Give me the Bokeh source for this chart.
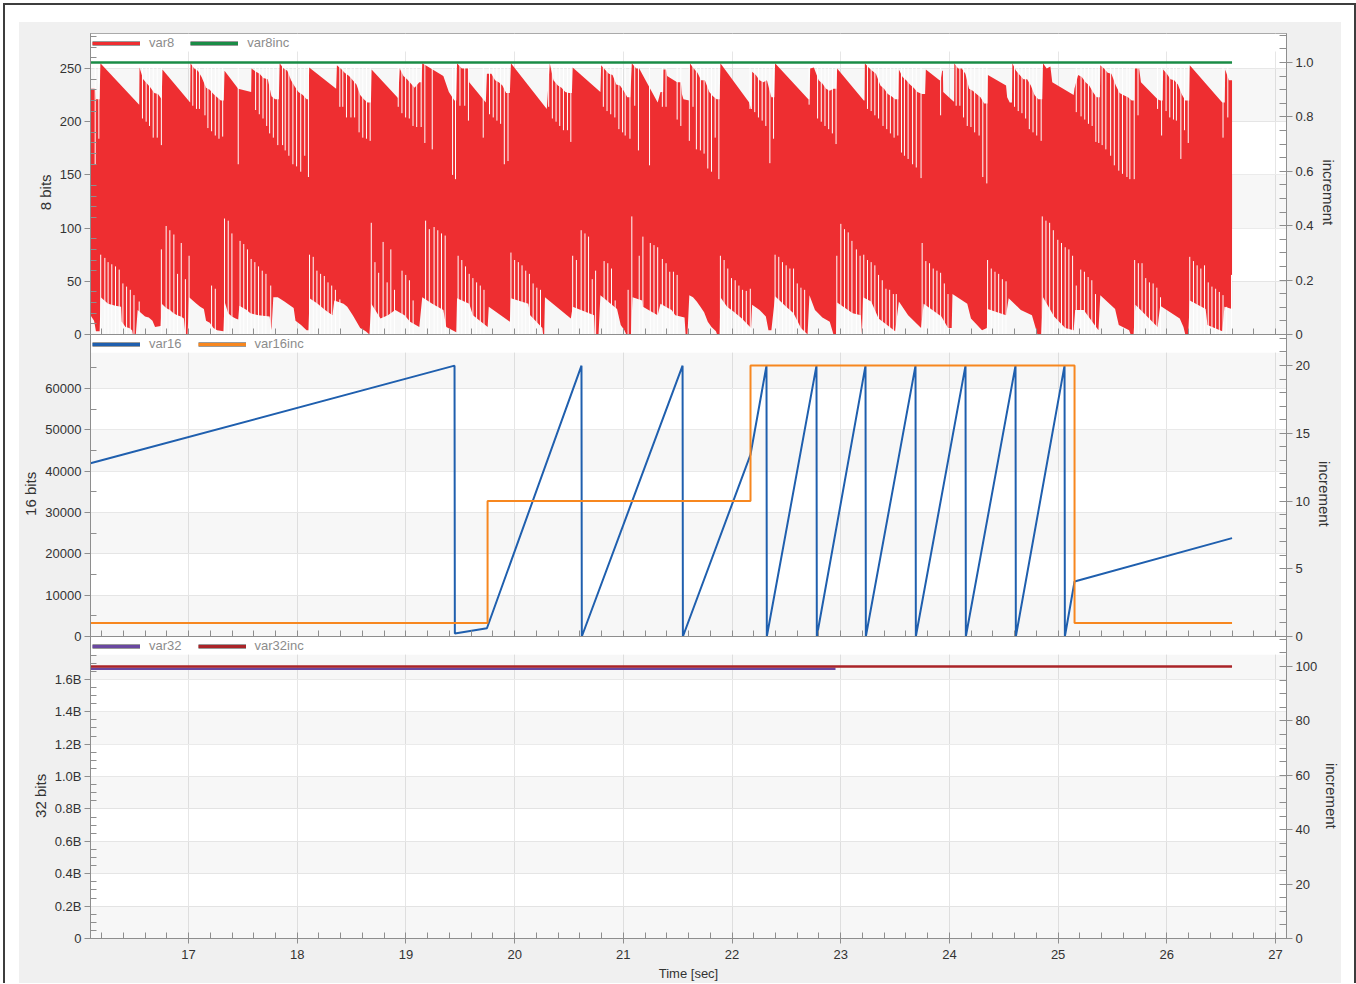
from bokeh.plotting import figure
from bokeh.models import (Range1d, LinearAxis, FixedTicker, BasicTicker, BoxAnnotation,
                          Legend, LegendItem)
from bokeh.layouts import column
from bokeh.embed import file_html
from bokeh.resources import INLINE

# ---------------- data ----------------
X_TICKS = [17, 18, 19, 20, 21, 22, 23, 24, 25, 26, 27]

# var8: upper edge of the red band (time [s], value)
var8_upper = [
    (16.098, 231), (16.141, 231), (16.148, 221), (16.182, 221), (16.189, 255), (16.546, 216),
    (16.549, 251), (16.583, 240), (16.617, 236), (16.651, 232), (16.685, 227), (16.719, 226), (16.753, 221),
    (16.760, 249), (17.015, 218),
    (17.018, 255), (17.052, 250), (17.086, 248), (17.120, 242), (17.161, 232), (17.195, 230), (17.229, 226),
    (17.263, 223), (17.297, 220), (17.324, 220),
    (17.331, 248), (17.457, 231), (17.576, 228),
    (17.579, 250), (17.620, 247), (17.654, 245), (17.688, 241), (17.729, 240), (17.763, 224), (17.797, 221), (17.831, 221),
    (17.838, 255), (17.875, 250), (17.909, 248), (17.943, 239), (17.977, 233), (18.011, 228), (18.052, 225),
    (18.086, 221), (18.103, 221),
    (18.110, 251), (18.358, 231),
    (18.365, 253), (18.409, 249), (18.436, 246), (18.477, 243), (18.511, 239), (18.545, 235), (18.579, 225),
    (18.613, 221), (18.647, 218), (18.678, 218),
    (18.684, 249), (18.929, 222),
    (18.943, 250), (18.977, 243), (19.011, 240), (19.045, 236), (19.079, 232), (19.123, 237), (19.143, 237),
    (19.150, 255), (19.344, 243), (19.395, 228), (19.446, 220), (19.463, 220),
    (19.470, 255), (19.514, 250), (19.575, 250),
    (19.582, 237), (19.735, 218),
    (19.745, 245), (19.786, 245), (19.820, 239), (19.854, 237), (19.888, 234), (19.922, 227), (19.956, 227),
    (19.966, 255), (20.296, 212),
    (20.323, 255), (20.357, 239), (20.398, 234), (20.432, 232), (20.466, 228), (20.500, 227), (20.527, 227),
    (20.534, 251), (20.789, 228),
    (20.796, 253), (20.830, 249), (20.867, 245), (20.901, 244), (20.935, 235), (20.969, 234), (21.003, 229),
    (21.037, 223), (21.064, 223),
    (21.078, 255), (21.119, 250), (21.146, 250), (21.316, 218),
    (21.342, 228), (21.366, 228), (21.369, 249), (21.393, 249), (21.403, 243), (21.495, 237), (21.529, 237),
    (21.539, 226), (21.553, 221), (21.607, 220),
    (21.612, 255), (21.648, 250), (21.682, 246), (21.716, 239), (21.750, 239), (21.791, 228), (21.825, 224),
    (21.859, 221), (21.886, 221),
    (21.893, 255), (22.158, 218), (22.175, 212), (22.183, 212),
    (22.185, 247), (22.219, 244), (22.253, 239), (22.287, 237), (22.321, 239), (22.362, 223), (22.389, 223),
    (22.396, 255), (22.702, 221), (22.712, 221),
    (22.719, 250), (22.753, 251), (22.797, 239), (22.831, 236), (22.865, 231), (22.899, 229), (22.933, 231), (22.960, 231),
    (22.967, 250), (23.212, 220), (23.219, 220),
    (23.222, 255), (23.256, 251), (23.290, 248), (23.324, 245), (23.365, 234), (23.399, 231), (23.433, 226),
    (23.467, 224), (23.501, 221), (23.530, 221),
    (23.535, 249), (23.569, 242), (23.603, 239), (23.637, 235), (23.671, 232), (23.705, 228), (23.749, 226), (23.776, 226),
    (23.783, 249), (23.909, 239), (23.919, 239), (23.933, 248), (23.940, 248), (23.943, 228), (24.038, 219), (24.043, 219),
    (24.045, 255), (24.079, 250), (24.113, 250), (24.147, 245), (24.181, 231), (24.215, 229), (24.249, 226),
    (24.286, 223), (24.320, 217), (24.350, 217),
    (24.354, 244), (24.521, 234), (24.531, 223), (24.555, 218), (24.575, 218),
    (24.579, 255), (24.613, 248), (24.647, 244), (24.681, 240), (24.715, 240), (24.749, 234), (24.783, 225),
    (24.817, 221), (24.854, 221),
    (24.861, 255), (24.895, 250), (24.929, 252), (24.946, 237), (25.143, 225),
    (25.150, 231), (25.184, 244), (25.218, 242), (25.252, 237), (25.286, 234), (25.320, 228), (25.354, 223), (25.384, 223),
    (25.388, 253), (25.422, 250), (25.456, 246), (25.490, 245), (25.531, 234), (25.565, 227), (25.599, 225),
    (25.643, 223), (25.677, 220), (25.700, 220),
    (25.704, 250), (25.745, 250), (25.762, 237), (25.915, 221), (25.939, 220), (25.962, 220),
    (25.966, 249), (26.000, 245), (26.034, 240), (26.068, 239), (26.102, 235), (26.136, 226), (26.170, 220), (26.206, 220),
    (26.211, 253), (26.510, 218), (26.533, 218), (26.537, 249), (26.571, 239), (26.600, 239),
]

# var8: narrow downward gaps from the top (time, lowest value of the gap)
var8_upper_gaps = [
    (16.141, 160), (16.175, 184), (16.576, 203), (16.610, 200), (16.641, 196), (16.675, 185), (16.712, 185),
    (16.750, 178), (17.039, 215), (17.073, 212), (17.100, 212), (17.151, 206), (17.178, 194), (17.212, 191),
    (17.246, 187), (17.280, 184), (17.314, 186), (17.457, 160), (17.617, 211), (17.651, 207), (17.685, 203),
    (17.719, 196), (17.746, 189), (17.780, 185), (17.821, 178), (17.865, 178), (17.889, 173), (17.923, 168),
    (17.960, 160), (17.994, 158), (18.032, 153), (18.069, 168), (18.103, 148), (18.392, 214), (18.419, 214),
    (18.453, 204), (18.494, 204), (18.528, 204), (18.569, 190), (18.603, 185), (18.637, 184), (18.671, 182),
    (18.929, 214), (18.963, 208), (18.997, 204), (19.031, 203), (19.065, 196), (19.099, 195), (19.140, 195),
    (19.174, 180), (19.242, 174), (19.429, 150), (19.456, 146), (19.497, 215), (19.541, 215), (19.575, 201),
    (19.711, 185), (19.769, 207), (19.803, 204), (19.837, 201), (19.871, 198), (19.905, 160), (19.939, 163),
    (20.313, 214), (20.347, 203), (20.381, 200), (20.415, 196), (20.449, 192), (20.486, 192), (20.517, 181),
    (20.816, 214), (20.850, 210), (20.884, 207), (20.922, 204), (20.959, 193), (20.993, 190), (21.017, 187),
    (21.061, 184), (21.105, 215), (21.139, 173), (21.241, 159),
    (21.359, 214), (21.393, 214), (21.495, 202), (21.529, 196), (21.607, 182), (21.641, 214), (21.672, 174),
    (21.709, 173), (21.743, 170), (21.777, 156), (21.811, 153), (21.845, 185), (21.879, 146), (22.165, 212),
    (22.209, 209), (22.243, 204), (22.277, 201), (22.311, 196), (22.348, 161), (22.382, 184), (22.709, 216),
    (22.787, 203), (22.821, 200), (22.855, 196), (22.889, 193), (22.923, 189), (22.957, 179), (23.246, 212),
    (23.280, 210), (23.314, 206), (23.348, 203), (23.389, 196), (23.423, 193), (23.457, 189), (23.491, 185),
    (23.525, 187), (23.559, 171), (23.586, 168), (23.620, 165), (23.661, 160), (23.695, 157), (23.739, 147),
    (23.919, 206), (24.062, 215), (24.096, 215), (24.130, 204), (24.164, 196), (24.198, 195), (24.232, 190),
    (24.273, 187), (24.307, 148), (24.344, 142), (24.599, 214), (24.633, 210), (24.667, 208), (24.701, 203),
    (24.735, 193), (24.769, 190), (24.803, 187), (24.844, 182), (25.167, 209), (25.211, 205), (25.245, 202),
    (25.279, 198), (25.313, 196), (25.347, 181), (25.374, 180), (25.405, 178), (25.439, 174), (25.483, 168),
    (25.517, 159), (25.558, 154), (25.592, 151), (25.633, 148), (25.660, 146), (25.700, 146), (25.735, 206),
    (25.915, 212), (25.952, 187), (25.993, 210), (26.027, 204), (26.061, 202), (26.088, 201), (26.129, 165),
    (26.163, 192), (26.197, 180), (26.517, 185), (26.561, 204),
]

# var8: lower edge of the red band (time, value)
var8_lower = [
    (16.098, 18), (16.131, 13), (16.148, 3), (16.182, 3), (16.192, 35), (16.226, 32), (16.260, 29), (16.294, 28),
    (16.328, 27), (16.379, 26), (16.386, 12), (16.420, 7), (16.454, 6), (16.481, 4), (16.488, 0), (16.515, 0),
    (16.532, 23), (16.566, 20), (16.600, 17), (16.634, 16), (16.668, 13), (16.692, 7), (16.743, 8),
    (16.753, 29), (16.794, 25), (16.828, 23), (16.862, 20), (16.896, 18), (16.930, 17), (16.957, 15), (16.971, 0), (16.991, 0),
    (17.005, 35), (17.039, 32), (17.073, 29), (17.107, 26), (17.141, 24), (17.161, 13), (17.195, 11), (17.229, 6),
    (17.263, 4), (17.321, 3), (17.331, 31), (17.365, 20), (17.399, 17), (17.433, 15), (17.457, 14),
    (17.467, 27), (17.535, 23), (17.569, 20), (17.644, 18), (17.746, 17), (17.763, 4),
    (17.780, 35), (17.821, 35), (17.882, 31), (17.967, 25), (17.984, 13), (18.035, 9), (18.086, 4), (18.103, 4),
    (18.113, 34), (18.188, 29), (18.256, 23), (18.324, 18),
    (18.341, 32), (18.426, 29), (18.460, 26), (18.511, 18), (18.579, 6), (18.630, 3), (18.664, 0),
    (18.681, 29), (18.766, 15), (18.834, 18), (18.902, 23), (18.987, 18), (19.038, 12), (19.123, 7),
    (19.150, 35), (19.242, 29), (19.344, 23), (19.371, 7), (19.463, 2),
    (19.470, 34), (19.582, 29), (19.616, 18), (19.752, 7), (19.762, 26), (19.956, 12),
    (19.966, 34), (20.126, 29), (20.143, 18), (20.255, 6), (20.262, 0), (20.272, 0),
    (20.279, 35), (20.517, 15), (20.534, 26), (20.731, 18), (20.738, 0), (20.772, 0),
    (20.789, 37), (20.942, 24), (20.976, 9), (21.010, 4), (21.027, 0), (21.071, 0),
    (21.085, 35), (21.173, 32), (21.180, 26), (21.316, 18),
    (21.342, 29), (21.410, 25), (21.444, 23), (21.478, 18), (21.563, 16), (21.573, 0), (21.590, 0),
    (21.607, 37), (21.641, 35), (21.675, 31), (21.709, 26), (21.743, 21), (21.777, 12), (21.811, 7), (21.852, 3),
    (21.862, 0), (21.886, 0),
    (21.893, 35), (21.954, 26), (22.022, 21), (22.090, 15), (22.175, 6),
    (22.185, 28), (22.253, 23), (22.311, 17), (22.335, 4), (22.362, 4),
    (22.396, 36), (22.498, 26), (22.566, 20), (22.634, 6), (22.695, 0),
    (22.712, 37), (22.763, 23), (22.831, 16), (22.899, 12), (22.933, 0), (22.957, 0),
    (22.967, 30), (23.110, 20), (23.185, 18), (23.195, 0),
    (23.205, 35), (23.280, 31), (23.348, 15), (23.501, 3),
    (23.535, 31), (23.620, 18), (23.739, 6),
    (23.763, 29), (23.926, 17), (23.987, 6), (24.021, 6),
    (24.028, 38), (24.164, 29), (24.198, 15), (24.300, 4), (24.344, 6),
    (24.351, 24), (24.521, 18),
    (24.545, 34), (24.657, 23), (24.759, 18), (24.793, 6), (24.810, 0), (24.844, 0),
    (24.861, 35), (24.963, 17), (25.065, 6), (25.143, 4),
    (25.157, 23), (25.235, 23), (25.371, 4),
    (25.388, 37), (25.524, 24), (25.558, 9), (25.653, 4), (25.667, 0), (25.694, 0),
    (25.711, 28), (25.915, 7),
    (25.939, 27), (26.119, 15), (26.153, 7), (26.170, 0), (26.197, 0),
    (26.211, 32), (26.357, 24), (26.374, 9), (26.510, 3),
    (26.530, 26), (26.600, 24),
]

# var8: narrow upward gaps from the bottom (time, highest value of the gap)
var8_lower_gaps = [
    (16.192, 75), (16.230, 72), (16.260, 68), (16.294, 66), (16.328, 64), (16.362, 61), (16.396, 48), (16.430, 45),
    (16.464, 42), (16.498, 37), (16.546, 31), (16.750, 80), (16.794, 102), (16.828, 98), (16.865, 94), (16.899, 57),
    (16.933, 86), (16.971, 52), (17.005, 74), (17.212, 46), (17.246, 43), (17.331, 109), (17.365, 107), (17.399, 95),
    (17.474, 88), (17.508, 85), (17.542, 80), (17.576, 71), (17.610, 68), (17.644, 64), (17.678, 60), (17.712, 57),
    (17.756, 46), (18.113, 75), (18.147, 73), (18.181, 60), (18.215, 57), (18.249, 55), (18.283, 49), (18.317, 46),
    (18.351, 42), (18.392, 33), (18.681, 105), (18.715, 68), (18.749, 58), (18.790, 87), (18.827, 49), (18.861, 80),
    (18.895, 42), (18.964, 60), (18.998, 56), (19.032, 51), (19.066, 32), (19.181, 107), (19.215, 99), (19.259, 101),
    (19.293, 98), (19.327, 95), (19.361, 93), (19.480, 74), (19.514, 70), (19.548, 64), (19.582, 57), (19.616, 53),
    (19.650, 49), (19.684, 46), (19.718, 42), (19.966, 77), (20.000, 70), (20.034, 68), (20.068, 65), (20.102, 60),
    (20.136, 57), (20.170, 48), (20.204, 44), (20.238, 42), (20.534, 74), (20.568, 70), (20.612, 98), (20.647, 95),
    (20.680, 92), (20.714, 52), (20.745, 60), (20.823, 69), (20.857, 67), (20.891, 62), (20.925, 32), (21.044, 42),
    (21.078, 111), (21.146, 74), (21.180, 92), (21.248, 86), (21.282, 84), (21.316, 82),
    (21.359, 71), (21.393, 67), (21.427, 59), (21.461, 59), (21.495, 56), (21.893, 74), (21.927, 70), (21.961, 62),
    (21.995, 53), (22.029, 51), (22.063, 46), (22.097, 42), (22.131, 41), (22.168, 43), (22.396, 75), (22.430, 73),
    (22.464, 68), (22.498, 65), (22.532, 62), (22.566, 62), (22.600, 48), (22.634, 44), (22.668, 42), (22.964, 74),
    (23.001, 104), (23.035, 99), (23.069, 96), (23.103, 88), (23.144, 80), (23.178, 74), (23.212, 75), (23.246, 70),
    (23.280, 68), (23.314, 65), (23.348, 56), (23.382, 51), (23.416, 43), (23.450, 42), (23.484, 38), (23.511, 38),
    (23.749, 86), (23.783, 69), (23.817, 67), (23.851, 62), (23.885, 60), (23.919, 58), (23.953, 48), (23.987, 38),
    (24.351, 70), (24.385, 62), (24.419, 59), (24.453, 57), (24.487, 52), (24.521, 50), (24.854, 111), (24.888, 107),
    (24.922, 105), (24.956, 98), (24.997, 89), (25.031, 86), (25.065, 82), (25.099, 80), (25.133, 74), (25.167, 46),
    (25.208, 61), (25.242, 59), (25.276, 54), (25.310, 51), (25.344, 38), (25.704, 70), (25.738, 67), (25.772, 67),
    (25.806, 53), (25.840, 49), (25.874, 48), (25.908, 44), (25.942, 35), (26.211, 73), (26.245, 69), (26.279, 65),
    (26.313, 62), (26.347, 65), (26.381, 49), (26.415, 45), (26.449, 43), (26.483, 40), (26.517, 37), (26.551, 26),
    (26.595, 56),
]

var8inc_t = [16.098, 26.600]
var8inc_v = [1, 1]

var16_t = [16.098, 19.447, 19.450, 19.745, 20.615, 20.618, 21.545, 21.548, 22.170, 22.317, 22.320,
           22.777, 22.780, 23.228, 23.231, 23.688, 23.691, 24.148, 24.151, 24.608, 24.611,
           25.059, 25.062, 25.151, 26.600]
var16_v = [41900, 65535, 700, 2000, 65535, 0, 65535, 0, 44000, 65535, 0,
           65535, 0, 65535, 0, 65535, 0, 65535, 0, 65535, 0,
           65535, 0, 13300, 23800]

var16inc_t = [16.098, 19.751, 22.170, 25.151, 26.600]
var16inc_v = [1, 10, 20, 1, 1]

var32_t = [16.098, 22.952]
var32_v = [1.665e9, 1.665e9]
var32inc_t = [16.098, 26.600]
var32inc_v = [100, 100]

# axis ticks / labels
Y8_TICKS = [0, 50, 100, 150, 200, 250]
Y8_LABELS = ["0", "50", "100", "150", "200", "250"]
R8_TICKS = [0, 0.2, 0.4, 0.6, 0.8, 1.0]
R8_LABELS = ["0", "0.2", "0.4", "0.6", "0.8", "1.0"]
Y16_TICKS = [0, 10000, 20000, 30000, 40000, 50000, 60000]
Y16_LABELS = ["0", "10000", "20000", "30000", "40000", "50000", "60000"]
R16_TICKS = [0, 5, 10, 15, 20]
R16_LABELS = ["0", "5", "10", "15", "20"]
Y32_TICKS = [0, 0.2e9, 0.4e9, 0.6e9, 0.8e9, 1.0e9, 1.2e9, 1.4e9, 1.6e9]
Y32_LABELS = ["0", "0.2B", "0.4B", "0.6B", "0.8B", "1.0B", "1.2B", "1.4B", "1.6B"]
R32_TICKS = [0, 20, 40, 60, 80, 100]
R32_LABELS = ["0", "20", "40", "60", "80", "100"]

# ---------------- style ----------------
RED = "#ee2e31"
GREEN = "#1a8c46"
BLUE = "#1f5fae"
ORANGE = "#f7871f"
PURPLE = "#6a48a0"
DARKRED = "#aa2428"
AXC = "#8e8e8e"
TXT = "#333333"
PANEL_BG = "#f0f0f0"
FONT = "Liberation Sans"
NB = "\u00a0" * 4   # shifts the axis titles to the centre of the area under the legend row

XR = Range1d(16.098, 27.101)
FW = 1196
OVER = 8   # overlap so that the "0" labels at a panel's foot stay visible


def minor_list(step, top, majors):
    out, k = [], 1
    while k * step < top:
        v = round(k * step, 6)
        if all(abs(v - m) > 1e-9 * max(1, abs(m)) for m in majors):
            out.append(v)
        k += 1
    return out


X_MINOR_ALL = [round(16.2 + 0.2 * k, 3) for k in range(55)]


def make_panel(fh, ymax, rmax, lticks, llabels, lminor, rticks, rlabels, rminor, ytitle,
               band_edges, row_bottom, top_border, last, z):
    p = figure(frame_width=FW, frame_height=fh, x_range=XR, y_range=Range1d(0, ymax),
               output_backend="svg", toolbar_location=None,
               min_border_left=69, min_border_right=53, min_border_top=top_border,
               min_border_bottom=0 if last else OVER, background_fill_color="white",
               border_fill_alpha=0, outline_line_color=AXC,
               styles={"z-index": str(z)})
    p.extra_y_ranges = {"inc": Range1d(0, rmax)}

    xt = BasicTicker(desired_num_ticks=11, num_minor_ticks=5)
    p.xgrid.ticker = xt
    p.xgrid.grid_line_color = "#e6e6e6"
    p.ygrid.grid_line_color = "#ebebeb"

    # left axis
    ya = p.yaxis[0]
    ya.ticker = FixedTicker(ticks=lticks, minor_ticks=lminor)
    p.ygrid.ticker = FixedTicker(ticks=lticks)
    ya.major_label_overrides = dict(zip(lticks, llabels))
    ya.axis_label = ytitle + NB
    ya.major_tick_out = 6
    ya.major_tick_in = 0
    ya.minor_tick_in = 6
    ya.minor_tick_out = 0
    ya.major_label_standoff = 3
    ya.axis_label_standoff = 3

    # right axis
    ra = LinearAxis(y_range_name="inc", ticker=FixedTicker(ticks=rticks, minor_ticks=rminor),
                    axis_label=NB + "increment")
    ra.major_label_overrides = dict(zip(rticks, rlabels))
    ra.major_tick_out = 6
    ra.major_tick_in = 7
    ra.minor_tick_in = 7
    ra.minor_tick_out = 0
    ra.major_label_standoff = 3
    ra.axis_label_standoff = 3
    p.add_layout(ra, "right")

    for ax in (ya, ra):
        ax.axis_line_color = AXC
        ax.major_tick_line_color = AXC
        ax.minor_tick_line_color = AXC
        ax.major_label_text_font = FONT
        ax.major_label_text_font_size = "13px"
        ax.major_label_text_color = TXT
        ax.axis_label_text_font = FONT
        ax.axis_label_text_font_size = "15px"
        ax.axis_label_text_font_style = "normal"
        ax.axis_label_text_color = TXT

    xa = p.xaxis[0]
    xa.axis_line_color = AXC
    xa.major_tick_line_color = AXC
    xa.minor_tick_line_color = AXC
    xa.minor_tick_in = 6
    xa.minor_tick_out = 0
    if last:
        xa.ticker = xt
        xa.major_tick_in = 0
        xa.major_tick_out = 5
        xa.major_label_standoff = 6
        xa.major_label_text_font = FONT
        xa.major_label_text_font_size = "13px"
        xa.major_label_text_color = TXT
        xa.axis_label = "Time [sec]"
        xa.axis_label_standoff = 4
        xa.axis_label_text_font = FONT
        xa.axis_label_text_font_size = "13px"
        xa.axis_label_text_font_style = "normal"
        xa.axis_label_text_color = TXT
    else:
        xa.ticker = FixedTicker(ticks=[], minor_ticks=X_MINOR_ALL)

    for lo, hi in band_edges:
        p.add_layout(BoxAnnotation(bottom=lo, top=hi, fill_color="#000000", fill_alpha=0.03,
                                   line_color=None, level="underlay"))
    p.add_layout(BoxAnnotation(bottom=row_bottom, fill_color="white", fill_alpha=1.0,
                               line_color=None, level="underlay"))
    return p


def add_legend(p, entries):
    items = []
    for label, color in entries:
        edge = p.line(x=[0, 0.001], y=[0, 0], line_color="#9a9a9a", line_width=5)
        core = p.line(x=[0, 0.001], y=[0, 0], line_color=color, line_width=3)
        items.append(LegendItem(label=label, renderers=[edge, core]))
    leg = Legend(items=items, location="top_left", orientation="horizontal", margin=0, padding=2,
                 glyph_width=48, glyph_height=14, label_standoff=9, spacing=16,
                 label_text_font=FONT, label_text_font_size="13px", label_text_color="#8c8c8c",
                 background_fill_alpha=0, border_line_alpha=0)
    p.add_layout(leg)


# ---------- panel 1 : 8 bits ----------
p1 = make_panel(301, 282.9, 1.1066, Y8_TICKS, Y8_LABELS, minor_list(10, 282, Y8_TICKS),
                R8_TICKS, R8_LABELS, minor_list(0.05, 1.1066, R8_TICKS), "8 bits",
                [(0, 50), (100, 150), (200, 250)], 266, 11, False, 3)

ut, uv = zip(*var8_upper)
lt_, lv = zip(*var8_lower)
p1.varea(x=list(ut), y1=100, y2=list(uv), fill_color=RED)
p1.varea(x=list(lt_), y1=list(lv), y2=150, fill_color=RED)
ugt, ugv = zip(*var8_upper_gaps)
p1.segment(x0=list(ugt), y0=list(ugv), x1=list(ugt), y1=256, line_color="white", line_width=1)
lgt, lgv = zip(*var8_lower_gaps)
p1.segment(x0=list(lgt), y0=-2, x1=list(lgt), y1=list(lgv), line_color="white", line_width=1)
p1.line(var8inc_t, var8inc_v, y_range_name="inc", line_color=GREEN, line_width=2.5)
add_legend(p1, [("var8", RED), ("var8inc", GREEN)])

# ---------- panel 2 : 16 bits ----------
p2 = make_panel(302, 73070, 22.29, Y16_TICKS, Y16_LABELS, minor_list(5000, 68700, Y16_TICKS),
                R16_TICKS, R16_LABELS, minor_list(1, 22.29, R16_TICKS), "16 bits",
                [(0, 10000), (20000, 30000), (40000, 50000), (60000, 68700)], 68700, 0, False, 2)
p2.margin = (-OVER, 0, 0, 0)
p2.line(var16_t, var16_v, line_color=BLUE, line_width=2)
p2.step(var16inc_t, var16inc_v, mode="after", y_range_name="inc", line_color=ORANGE, line_width=2)
add_legend(p2, [("var16", BLUE), ("var16inc", ORANGE)])

# ---------- panel 3 : 32 bits ----------
p3 = make_panel(302, 1.8642e9, 111.03, Y32_TICKS, Y32_LABELS, minor_list(0.05e9, 1.76e9, Y32_TICKS),
                R32_TICKS, R32_LABELS, minor_list(5, 111.03, R32_TICKS), "32 bits",
                [(0, 0.2e9), (0.4e9, 0.6e9), (0.8e9, 1.0e9), (1.2e9, 1.4e9), (1.6e9, 1.753e9)],
                1.753e9, 0, True, 1)
p3.margin = (-OVER, 0, 0, 0)
p3.line(var32_t, var32_v, line_color=PURPLE, line_width=2.5)
p3.line(var32inc_t, var32inc_v, y_range_name="inc", line_color=DARKRED, line_width=2.5)
add_legend(p3, [("var32", PURPLE), ("var32inc", DARKRED)])

inner = column(p1, p2, p3, spacing=0, styles={"background-color": PANEL_BG})
layout = column(inner, spacing=0,
                styles={"border-top": "2px solid #3d3d3d", "border-left": "2px solid #3d3d3d",
                        "border-right": "2px solid #3d3d3d", "background-color": "white",
                        "padding": "17px 13px 0px 14px"})
layout.margin = (3, 0, 0, 3)

open("out.html", "w").write(file_html(layout, INLINE))
